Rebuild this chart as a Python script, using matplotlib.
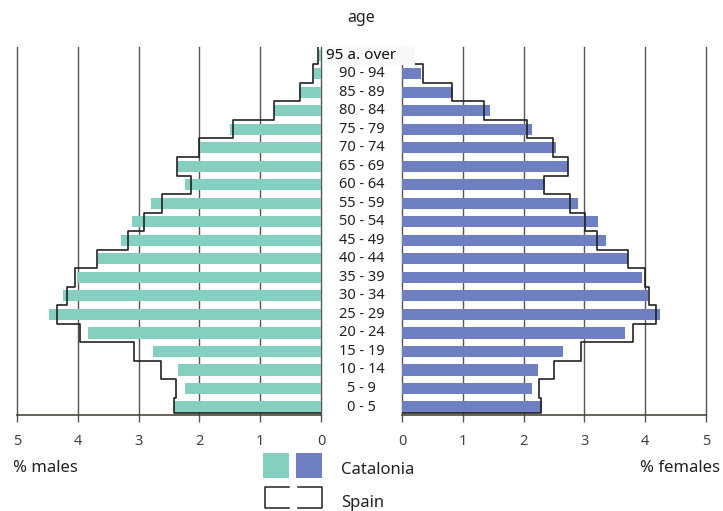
import matplotlib
matplotlib.use("Agg")
import matplotlib.pyplot as plt
from matplotlib.patches import Rectangle
from matplotlib.lines import Line2D

# age groups, bottom to top
ages = ["0 - 5", "5 - 9", "10 - 14", "15 - 19", "20 - 24", "25 - 29", "30 - 34",
        "35 - 39", "40 - 44", "45 - 49", "50 - 54", "55 - 59", "60 - 64", "65 - 69",
        "70 - 74", "75 - 79", "80 - 84", "85 - 89", "90 - 94", "95 a. over"]

# % of population, Catalonia (bars)
cat_males = [2.41, 2.24, 2.35, 2.77, 3.84, 4.48, 4.24, 4.01, 3.66, 3.29,
             3.11, 2.80, 2.24, 2.37, 1.99, 1.49, 0.78, 0.37, 0.12, 0.03]
cat_females = [2.30, 2.13, 2.24, 2.65, 3.67, 4.25, 4.05, 3.94, 3.71, 3.36,
               3.23, 2.89, 2.35, 2.73, 2.53, 2.13, 1.45, 0.84, 0.32, 0.10]

# % of population, Spain (outline)
spain_males = [2.41, 2.38, 2.63, 3.07, 3.96, 4.34, 4.17, 4.05, 3.68, 3.17,
               2.91, 2.62, 2.14, 2.37, 2.00, 1.45, 0.77, 0.34, 0.13, 0.05]
spain_females = [2.29, 2.26, 2.50, 2.94, 3.80, 4.18, 4.06, 4.00, 3.72, 3.20,
                 3.01, 2.76, 2.34, 2.73, 2.49, 2.06, 1.35, 0.82, 0.34, 0.12]

teal = "#84cfbf"
blue = "#6f80c2"
grid_col = "#555555"
base_col = "#4a4a32"

W, H = 723, 511
fig = plt.figure(figsize=(W / 100, H / 100), dpi=100)
plt.rcParams['font.family'] = ['Noto Sans', 'DejaVu Sans']

y_lo, y_hi = -0.43, 19.44
top_px, bot_px = 47, 415


def make_ax(x0, x1):
    return fig.add_axes([x0 / W, 1 - bot_px / H, (x1 - x0) / W, (bot_px - top_px) / H])


ax_m = make_ax(17, 321)
ax_f = make_ax(402, 706)


def spain_path(vals):
    xs, ys = [0], [-0.3]
    for i, v in enumerate(vals):
        lo = -0.3 if i == 0 else i - 0.5
        hi = y_hi if i == len(vals) - 1 else i + 0.5
        xs += [v, v]
        ys += [lo, hi]
    return xs, ys


for ax, cat, spain, col in [(ax_m, cat_males, spain_males, teal),
                            (ax_f, cat_females, spain_females, blue)]:
    ax.set_ylim(y_lo, y_hi)
    ax.set_xlim(0, 5)
    for g in range(6):
        ax.axvline(g, color=grid_col, lw=1.0, zorder=1, clip_on=False)
    ax.barh(range(len(ages)), cat, height=0.6, color=col, zorder=2)
    xs, ys = spain_path(spain)
    ax.plot(xs, ys, color="#222222", lw=1.2, zorder=3)
    for s in ["top", "left", "right"]:
        ax.spines[s].set_visible(False)
    ax.spines["bottom"].set_color(base_col)
    ax.spines["bottom"].set_linewidth(1.2)
    ax.set_yticks([])
    ax.set_xticks(range(6))
    ax.tick_params(axis="x", length=5, width=1, color=grid_col, pad=9,
                   labelsize=10.5, labelcolor="#444444")

ax_m.invert_xaxis()

# age labels in the gap
for i, a in enumerate(ages[:-1]):
    y_px = 407 - i * 18.52
    fig.text(361.5 / W, 1 - y_px / H, a, ha="center", va="center",
             fontsize=10.5, color="#222222")

# top label with box
fig.patches.append(Rectangle((325 / W, 1 - 65 / H), 90 / W, 18 / H,
                             transform=fig.transFigure, facecolor="#f8f8f8",
                             edgecolor="none", zorder=5))
fig.text(326 / W, 1 - 55.5 / H, ages[-1], ha="left", va="center",
         fontsize=11, color="#111111", fontweight="semibold", zorder=6)

fig.text(361 / W, 1 - 18 / H, "age", ha="center", va="center",
         fontsize=11.5, color="#222222")
fig.text(13 / W, 1 - 468 / H, "% males", ha="left", va="center",
         fontsize=12, color="#222222")
fig.text(720 / W, 1 - 468 / H, "% females", ha="right", va="center",
         fontsize=12, color="#222222")

# legend
fig.patches.append(Rectangle((263 / W, 1 - 478 / H), 26 / W, 25 / H,
                             transform=fig.transFigure, facecolor=teal, edgecolor="none"))
fig.patches.append(Rectangle((296 / W, 1 - 478 / H), 26 / W, 25 / H,
                             transform=fig.transFigure, facecolor=blue, edgecolor="none"))
fig.text(341 / W, 1 - 470 / H, "Catalonia", ha="left", va="center",
         fontsize=12, color="#222222")

yt, yb = 1 - 487 / H, 1 - 508 / H
fig.lines.append(Line2D([289 / W, 265 / W, 265 / W, 289 / W], [yt, yt, yb, yb],
                        transform=fig.transFigure, color="#222222", lw=1.1))
fig.lines.append(Line2D([298 / W, 322 / W, 322 / W, 298 / W], [yt, yt, yb, yb],
                        transform=fig.transFigure, color="#222222", lw=1.1))
fig.text(341 / W, 1 - 503 / H, "Spain", ha="left", va="center",
         fontsize=12, color="#222222")

fig.savefig("out.png", dpi=100)
